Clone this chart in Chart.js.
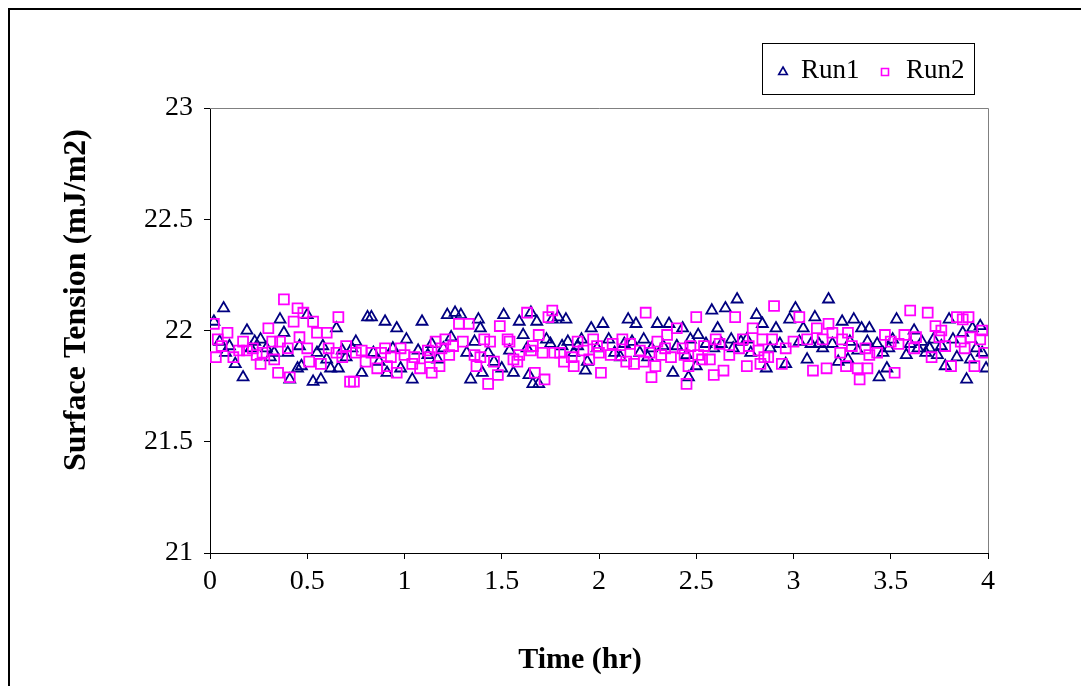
<!DOCTYPE html>
<html>
<head>
<meta charset="utf-8">
<script src="https://cdn.jsdelivr.net/npm/chart.js@4.4.1/dist/chart.umd.min.js"></script>
<style>
	body { margin: 0; background: #fff; }
	#wrap { width: 1081px; height: 686px; }
</style>
</head>
<body>
<div id="wrap"><canvas id="tension-chart" width="1081" height="686"></canvas></div>
<script>
// readings, time in hours and surface tension in mJ/m2
const run1Hours = [
	0.02, 0.05, 0.07, 0.08, 0.10, 0.13, 0.17, 0.19, 0.21, 0.23,
	0.26, 0.29, 0.31, 0.33, 0.36, 0.38, 0.40, 0.41, 0.45, 0.46,
	0.47, 0.50, 0.53, 0.55, 0.57, 0.58, 0.60, 0.62, 0.65, 0.66,
	0.68, 0.70, 0.73, 0.75, 0.78, 0.81, 0.83, 0.84, 0.87, 0.90,
	0.91, 0.94, 0.96, 0.98, 1.01, 1.04, 1.07, 1.09, 1.12, 1.14,
	1.17, 1.20, 1.22, 1.24, 1.26, 1.29, 1.32, 1.34, 1.36, 1.38,
	1.39, 1.40, 1.43, 1.46, 1.50, 1.51, 1.54, 1.56, 1.59, 1.61,
	1.63, 1.64, 1.65, 1.66, 1.68, 1.69, 1.73, 1.75, 1.76, 1.79,
	1.81, 1.83, 1.84, 1.87, 1.89, 1.91, 1.93, 1.94, 1.96, 1.99,
	2.02, 2.05, 2.08, 2.11, 2.13, 2.15, 2.17, 2.19, 2.21, 2.23,
	2.25, 2.27, 2.30, 2.33, 2.36, 2.38, 2.40, 2.43, 2.45, 2.46,
	2.47, 2.50, 2.51, 2.55, 2.58, 2.59, 2.61, 2.63, 2.65, 2.68,
	2.69, 2.71, 2.73, 2.76, 2.78, 2.81, 2.84, 2.86, 2.88, 2.91,
	2.93, 2.96, 2.98, 3.01, 3.03, 3.05, 3.07, 3.09, 3.11, 3.13,
	3.15, 3.18, 3.20, 3.23, 3.25, 3.28, 3.29, 3.31, 3.33, 3.35,
	3.38, 3.39, 3.43, 3.44, 3.46, 3.48, 3.49, 3.51, 3.53, 3.58,
	3.60, 3.62, 3.64, 3.66, 3.68, 3.70, 3.72, 3.74, 3.76, 3.78,
	3.80, 3.82, 3.84, 3.87, 3.89, 3.91, 3.92, 3.94, 3.96, 3.97,
	3.99,
];
const run1Tension = [
	22.04, 21.95, 22.10, 21.90, 21.93, 21.85, 21.79, 22.00, 21.92, 21.95,
	21.96, 21.92, 21.88, 21.90, 22.05, 21.99, 21.90, 21.78, 21.83, 21.93,
	21.84, 22.07, 21.77, 21.90, 21.78, 21.93, 21.87, 21.83, 22.01, 21.83,
	21.91, 21.88, 21.92, 21.95, 21.81, 22.06, 22.06, 21.90, 21.86, 22.04,
	21.81, 21.92, 22.01, 21.83, 21.96, 21.78, 21.91, 22.04, 21.89, 21.94,
	21.87, 21.92, 22.07, 21.97, 22.08, 22.07, 21.90, 21.78, 21.95, 22.05,
	22.01, 21.81, 21.90, 21.86, 21.83, 22.07, 21.91, 21.81, 22.04, 21.98,
	21.92, 21.80, 22.08, 21.76, 22.04, 21.76, 21.96, 21.94, 22.05, 22.06,
	21.93, 22.05, 21.95, 21.90, 21.93, 21.96, 21.82, 21.86, 22.01, 21.92,
	22.03, 21.96, 21.90, 21.88, 21.94, 22.05, 21.95, 22.03, 21.90, 21.96,
	21.88, 21.92, 22.03, 21.93, 22.03, 21.81, 21.93, 22.01, 21.89, 21.79,
	21.96, 21.84, 21.98, 21.94, 22.09, 21.92, 22.01, 21.94, 22.10, 21.96,
	21.92, 22.14, 21.95, 21.96, 21.90, 22.07, 22.03, 21.83, 21.92, 22.01,
	21.94, 21.85, 22.05, 22.10, 21.95, 22.01, 21.87, 21.94, 22.06, 21.94,
	21.92, 22.14, 21.94, 21.86, 22.04, 21.87, 21.95, 22.05, 21.91, 22.01,
	21.95, 22.01, 21.94, 21.79, 21.90, 21.83, 21.92, 21.96, 22.05, 21.89,
	21.94, 22.00, 21.92, 21.95, 21.90, 21.92, 21.96, 21.89, 21.93, 21.84,
	22.05, 21.96, 21.88, 21.99, 21.78, 21.87, 22.01, 21.92, 22.02, 21.90,
	21.83,
];

const run2Hours = [
	0.02, 0.03, 0.04, 0.06, 0.09, 0.12, 0.15, 0.17, 0.19, 0.22,
	0.24, 0.26, 0.27, 0.30, 0.32, 0.33, 0.35, 0.36, 0.38, 0.40,
	0.41, 0.43, 0.45, 0.46, 0.48, 0.50, 0.51, 0.53, 0.55, 0.57,
	0.60, 0.61, 0.65, 0.66, 0.68, 0.70, 0.72, 0.74, 0.75, 0.78,
	0.80, 0.83, 0.86, 0.88, 0.90, 0.91, 0.93, 0.96, 0.98, 1.00,
	1.04, 1.05, 1.08, 1.12, 1.13, 1.14, 1.16, 1.18, 1.19, 1.21,
	1.23, 1.25, 1.28, 1.30, 1.33, 1.36, 1.37, 1.39, 1.41, 1.43,
	1.44, 1.46, 1.48, 1.49, 1.53, 1.54, 1.56, 1.58, 1.59, 1.63,
	1.65, 1.66, 1.67, 1.69, 1.71, 1.72, 1.74, 1.76, 1.77, 1.80,
	1.82, 1.86, 1.87, 1.89, 1.92, 1.95, 1.97, 1.99, 2.00, 2.01,
	2.06, 2.07, 2.11, 2.12, 2.14, 2.16, 2.18, 2.21, 2.23, 2.24,
	2.26, 2.27, 2.29, 2.30, 2.32, 2.34, 2.35, 2.37, 2.40, 2.43,
	2.44, 2.45, 2.46, 2.47, 2.50, 2.51, 2.53, 2.54, 2.57, 2.59,
	2.60, 2.62, 2.64, 2.67, 2.70, 2.72, 2.74, 2.76, 2.77, 2.79,
	2.82, 2.83, 2.84, 2.85, 2.87, 2.89, 2.90, 2.94, 2.96, 3.00,
	3.03, 3.07, 3.10, 3.12, 3.15, 3.17, 3.18, 3.20, 3.24, 3.25,
	3.27, 3.28, 3.30, 3.33, 3.34, 3.37, 3.38, 3.39, 3.43, 3.47,
	3.50, 3.52, 3.54, 3.57, 3.60, 3.62, 3.63, 3.69, 3.71, 3.73,
	3.75, 3.76, 3.78, 3.81, 3.84, 3.86, 3.87, 3.88, 3.90, 3.91,
	3.93, 3.96, 3.97, 3.98,
];
const run2Tension = [
	22.03, 21.88, 21.96, 21.93, 21.99, 21.88, 21.91, 21.95, 21.91, 21.92,
	21.89, 21.85, 21.90, 22.01, 21.95, 21.87, 21.81, 21.95, 22.14, 21.92,
	21.79, 22.04, 22.10, 21.97, 22.08, 21.92, 21.86, 22.04, 21.99, 21.85,
	21.99, 21.92, 21.90, 22.06, 21.88, 21.93, 21.77, 21.77, 21.90, 21.91,
	21.86, 21.90, 21.83, 21.90, 21.92, 21.84, 21.88, 21.81, 21.92, 21.89,
	21.85, 21.88, 21.83, 21.91, 21.88, 21.81, 21.95, 21.84, 21.92, 21.96,
	21.89, 21.93, 22.03, 21.95, 22.03, 21.89, 21.84, 21.88, 21.96, 21.76,
	21.95, 21.86, 21.80, 22.02, 21.96, 21.95, 21.87, 21.86, 21.89, 22.08,
	21.91, 21.93, 21.81, 21.98, 21.90, 21.78, 22.06, 22.09, 21.90, 21.90,
	21.86, 21.88, 21.84, 21.95, 21.91, 21.87, 21.96, 21.93, 21.90, 21.81,
	21.89, 21.94, 21.89, 21.96, 21.86, 21.94, 21.85, 21.91, 21.86, 22.08,
	21.90, 21.79, 21.84, 21.95, 21.89, 21.92, 21.98, 21.88, 22.01, 21.92,
	21.89, 21.76, 21.84, 21.93, 22.06, 21.89, 21.87, 21.93, 21.87, 21.80,
	21.96, 21.94, 21.82, 21.89, 22.06, 21.92, 21.96, 21.84, 21.93, 22.01,
	21.91, 21.85, 21.96, 21.88, 21.88, 21.96, 22.11, 21.85, 21.92, 21.95,
	22.06, 21.96, 21.82, 22.01, 21.96, 21.83, 22.03, 21.99, 21.90, 21.96,
	21.84, 21.99, 21.93, 21.83, 21.78, 21.92, 21.83, 21.89, 21.90, 21.98,
	21.95, 21.81, 21.94, 21.98, 22.09, 21.92, 21.97, 22.08, 21.88, 22.02,
	21.97, 22.00, 21.93, 21.84, 22.06, 21.95, 22.05, 21.92, 22.06, 21.97,
	21.84, 21.96, 22.00, 21.90,
];

const seriesNames = ["Run1", "Run2"];
const xAxisTitle = "Time (hr)";
const yAxisTitle = "Surface Tension (mJ/m2)";

const serif = "'Liberation Serif', 'Times New Roman', serif";
const navy = "#000080";
const magenta = "#FF00FF";

const toPoints = (xs, ys) => xs.map((x, i) => ({ x: x, y: ys[i] }));

// tick text like "21", "21.5" (no forced decimals)
const plainNumber = (value) => String(Number(value));

// little marker for the legend box, same shapes as the plot
function legendMarker(ctx, style, x, y, color) {
	ctx.save();
	ctx.strokeStyle = color;
	ctx.lineWidth = 1.6;
	ctx.beginPath();
	if (style === "triangle") {
		ctx.moveTo(x, y - 5);
		ctx.lineTo(x + 4.3, y + 2.5);
		ctx.lineTo(x - 4.3, y + 2.5);
		ctx.closePath();
	} else {
		ctx.rect(x - 3.5, y - 3.5, 7, 7);
	}
	ctx.stroke();
	ctx.restore();
}

const chartDecor = {
	id: "chartDecor",
	beforeDraw(chart) {
		const ctx = chart.ctx;
		ctx.save();
		ctx.fillStyle = "#fff";
		ctx.fillRect(0, 0, chart.width, chart.height);
		// outer chart frame, cut off at right and bottom
		ctx.strokeStyle = "#000";
		ctx.lineWidth = 2;
		ctx.beginPath();
		ctx.moveTo(9, chart.height);
		ctx.lineTo(9, 9);
		ctx.lineTo(chart.width, 9);
		ctx.stroke();
		ctx.restore();
	},
	beforeDatasetsDraw(chart) {
		const { ctx, chartArea: a } = chart;
		ctx.save();
		ctx.strokeStyle = "#808080";
		ctx.lineWidth = 1;
		ctx.beginPath();
		ctx.moveTo(a.left, a.top + 0.5);
		ctx.lineTo(a.right + 0.5, a.top + 0.5);
		ctx.lineTo(a.right + 0.5, a.bottom);
		ctx.stroke();
		ctx.restore();
	},
	afterDraw(chart) {
		const ctx = chart.ctx;
		ctx.save();
		ctx.fillStyle = "#000";
		ctx.textAlign = "center";
		ctx.textBaseline = "middle";
		ctx.font = "bold 30px " + serif;
		ctx.fillText(xAxisTitle, 580, 660);

		ctx.font = "bold 32px " + serif;
		ctx.translate(77, 300);
		ctx.rotate(-Math.PI / 2);
		ctx.fillText(yAxisTitle, 0, 0);
		ctx.restore();

		// legend box
		ctx.save();
		ctx.strokeStyle = "#000";
		ctx.lineWidth = 1;
		ctx.strokeRect(762.5, 43.5, 212, 51);
		legendMarker(ctx, "triangle", 783, 72, navy);
		legendMarker(ctx, "rect", 885, 72, magenta);
		ctx.fillStyle = "#000";
		ctx.font = "27px " + serif;
		ctx.textBaseline = "middle";
		ctx.fillText(seriesNames[0], 801, 71);
		ctx.fillText(seriesNames[1], 906, 71);
		ctx.restore();
	},
};

const tensionCanvas = document.getElementById("tension-chart");

const tensionChart = new Chart(tensionCanvas, {
	type: "scatter",
	data: {
		datasets: [
			{
				label: seriesNames[0],
				data: toPoints(run1Hours, run1Tension),
				pointStyle: "triangle",
				pointRadius: 6.3,
				borderColor: navy,
				backgroundColor: "rgba(0,0,0,0)",
				borderWidth: 1.8,
				order: 1,
			},
			{
				label: seriesNames[1],
				data: toPoints(run2Hours, run2Tension),
				pointStyle: "rect",
				pointRadius: 7,
				borderColor: magenta,
				backgroundColor: "rgba(0,0,0,0)",
				borderWidth: 1.8,
				order: 0,
			},
		],
	},
	plugins: [chartDecor],
	options: {
		responsive: false,
		animation: false,
		events: [],
		layout: {
			padding: { left: 0, top: 108, right: 93, bottom: 0 },
		},
		plugins: {
			legend: { display: false },
			tooltip: { enabled: false },
		},
		scales: {
			x: {
				type: "linear",
				min: 0,
				max: 4,
				border: { display: true, color: "#000", width: 1 },
				grid: {
					display: true,
					drawOnChartArea: false,
					drawTicks: true,
					tickLength: 6,
					color: "#000",
				},
				ticks: {
					stepSize: 0.5,
					color: "#000",
					padding: 6,
					maxRotation: 0,
					font: { family: serif, size: 28 },
					callback: plainNumber,
				},
				afterFit(scale) {
					scale.height = 133;
				},
			},
			y: {
				min: 21,
				max: 23,
				border: { display: true, color: "#000", width: 1 },
				grid: {
					display: true,
					drawOnChartArea: false,
					drawTicks: true,
					tickLength: 6,
					color: "#000",
				},
				ticks: {
					stepSize: 0.5,
					color: "#000",
					padding: 11,
					font: { family: serif, size: 28 },
					callback: plainNumber,
				},
				afterFit(scale) {
					scale.width = 210;
				},
			},
		},
	},
});
</script>
</body>
</html>
